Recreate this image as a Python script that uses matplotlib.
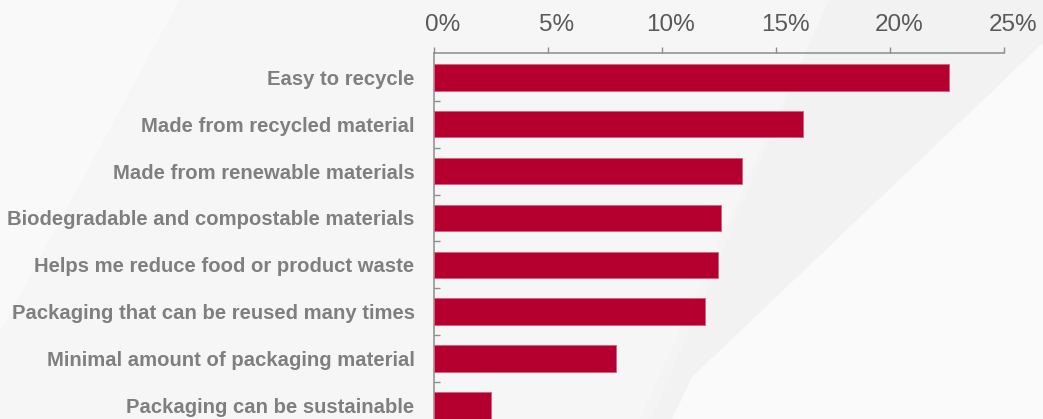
import matplotlib
matplotlib.use("Agg")
import matplotlib.pyplot as plt
from matplotlib.patches import Polygon
from matplotlib.transforms import ScaledTranslation
import numpy as np

categories = [
    "Easy to recycle",
    "Made from recycled material",
    "Made from renewable materials",
    "Biodegradable and compostable materials",
    "Helps me reduce food or product waste",
    "Packaging that can be reused many times",
    "Minimal amount of packaging material",
    "Packaging can be sustainable",
]
values = [22.6, 16.2, 13.5, 12.6, 12.45, 11.9, 8.0, 2.5]
xticks = [0, 5, 10, 15, 20, 25]
xtick_labels = ["0%", "5%", "10%", "15%", "20%", "25%"]

W, H = 1043, 419
fig = plt.figure(figsize=(W / 100, H / 100), dpi=100)
fig.patch.set_facecolor("#F4F4F4")

# background decoration (figure pixel coords)
bg = fig.add_axes([0, 0, 1, 1], zorder=-10)
bg.set_xlim(0, W)
bg.set_ylim(H, 0)
bg.axis("off")
bg.add_patch(Polygon([(0, 0), (180, 0), (0, 333)], closed=True, facecolor="#F9F9F9", edgecolor="none"))
bg.add_patch(Polygon([(180, 0), (0, 333), (0, 419), (640, 419), (829, 0)], closed=True,
                     facecolor="#F6F6F6", edgecolor="none"))
bg.add_patch(Polygon([(829, 0), (1043, 0), (1043, 43), (692, 377), (672, 419), (652, 419)], closed=True,
                     facecolor="#F2F2F2", edgecolor="none"))
bg.add_patch(Polygon([(1043, 43), (1043, 419), (672, 419), (692, 377)], closed=True,
                     facecolor="#FAFAFA", edgecolor="none"))

left = 434 / W
right = 1004 / W
top = (H - 53) / H
ax = fig.add_axes([left, 0, right - left, top])
ax.patch.set_alpha(0)

y = np.arange(len(categories))
ax.barh(y, values, height=0.565, color="#B5002F", edgecolor="#D8647E", linewidth=0.7, zorder=3)

ax.set_xlim(0, 25)
ax.set_ylim(7.29, -0.52)

ax.xaxis.tick_top()
ax.set_xticks(xticks)
ax.set_xticklabels(xtick_labels, fontsize=17.5, color="#595959", family="Liberation Sans")
ax.tick_params(axis="x", direction="out", length=4.5, width=1, color="#8C8C8C", pad=8)
for lab in ax.get_xticklabels():
    lab.set_transform(lab.get_transform() + ScaledTranslation(9 / 100, 0, fig.dpi_scale_trans))

ax.set_yticks(y)
ax.set_yticklabels(categories, fontsize=14.6, fontweight="bold", color="#7F7F7F", family="Liberation Sans")
ax.set_yticks(np.arange(0.5, len(categories) - 1, 1.0), minor=True)
ax.tick_params(axis="y", which="major", length=0, pad=14)
ax.tick_params(axis="y", which="minor", direction="in", length=4, width=1, color="#8C8C8C")

for s in ["right", "bottom"]:
    ax.spines[s].set_visible(False)
for s in ["top", "left"]:
    ax.spines[s].set_color("#8C8C8C")
    ax.spines[s].set_linewidth(1.1)

fig.savefig("out.png", dpi=100, facecolor=fig.get_facecolor())
